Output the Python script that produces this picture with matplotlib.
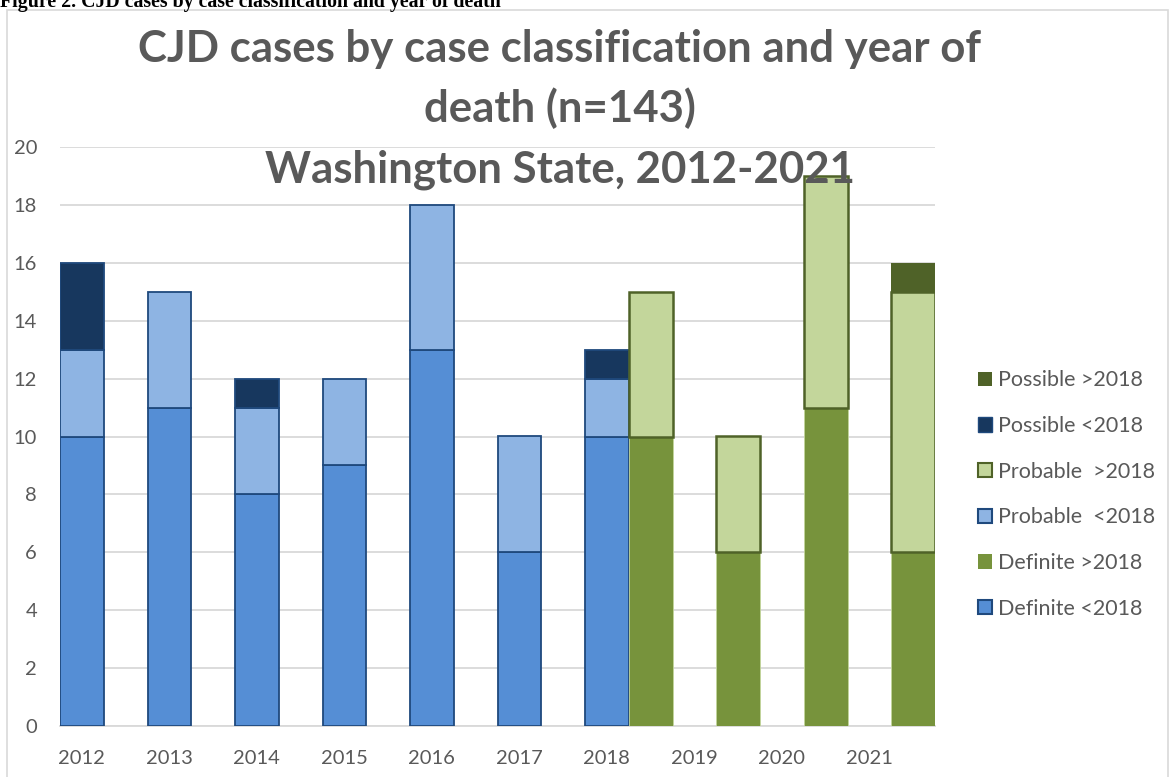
import matplotlib
matplotlib.use("Agg")
import matplotlib.pyplot as plt
from matplotlib.patches import Patch, Rectangle
import numpy as np

# category labels
years = ['2012', '2013', '2014', '2015', '2016', '2017', '2018', '2019', '2020', '2021']

# bars before 2018 (blue group), one per year 2012-2018
definite_lt = [10, 11, 8, 9, 13, 6, 10]
probable_lt = [3, 4, 3, 3, 5, 4, 2]
possible_lt = [3, 0, 1, 0, 0, 0, 1]

# bars after 2018 (green group), sitting between categories
definite_gt = [10, 6, 11, 6]
probable_gt = [5, 4, 8, 9]
possible_gt = [0, 0, 0, 1]

GREY = '#595959'
plt.rcParams['font.family'] = ['Lato', 'DejaVu Sans']

W, H = 1170, 777
fig = plt.figure(figsize=(W / 100, H / 100), dpi=100)

# chart frame and cropped caption above it
fig.patches.append(Rectangle((7 / W, -0.01), 1161 / W, 1 - 10 / H + 0.01,
                             transform=fig.transFigure, fill=False,
                             edgecolor='#D9D9D9', lw=1.2))
fig.text(0, 1 - 7 / H, 'Figure 2. CJD cases by case classification and year of death',
         family='Liberation Serif', weight='bold', fontsize=14.3, color='black',
         ha='left', va='baseline')

ax = fig.add_axes([60 / W, 51 / H, 875 / W, 579 / H])

x_lt = np.arange(len(definite_lt))
x_gt = np.arange(len(definite_gt)) + 6.5
w = 0.5
blue_edge = '#1F497D'
green_edge = '#4F6228'

b1 = np.array(definite_lt)
b2 = b1 + np.array(probable_lt)
ax.bar(x_lt, definite_lt, w, color='#558ED5', edgecolor=blue_edge, lw=1.3, zorder=3)
ax.bar(x_lt, probable_lt, w, bottom=b1, color='#8EB4E3', edgecolor=blue_edge, lw=1.3, zorder=3)
ax.bar(x_lt, possible_lt, w, bottom=b2, color='#17375E', edgecolor=blue_edge,
       lw=[1.3 if v else 0 for v in possible_lt], zorder=3)

g1 = np.array(definite_gt)
g2 = g1 + np.array(probable_gt)
ax.bar(x_gt, definite_gt, w, color='#77933C', edgecolor='#C3D69B', lw=0.6, zorder=3)
ax.bar(x_gt, probable_gt, w, bottom=g1, color='#C3D69B', edgecolor=green_edge, lw=1.8, zorder=3)
ax.bar(x_gt, possible_gt, w, bottom=g2, color='#4F6228', lw=0, zorder=3)

ax.set_xlim(-0.25, 9.75)
ax.set_ylim(0, 20)
ax.set_yticks(range(0, 21, 2))
ax.set_xticks(range(len(years)))
ax.set_xticklabels(years)
ax.tick_params(length=0, labelsize=14.5, labelcolor=GREY)
ax.tick_params(axis='y', pad=16.5)
ax.tick_params(axis='x', pad=17.5)
ax.yaxis.grid(True, color='#D9D9D9', lw=1.3, zorder=0)
ax.set_axisbelow(True)
for s in ['left', 'right', 'top']:
    ax.spines[s].set_visible(False)
ax.spines['bottom'].set_color('#D9D9D9')
ax.spines['bottom'].set_linewidth(1.3)

# title, three lines (baselines)
cx = 560 / W
for txt, yy in [('CJD cases by case classification and year of', 62),
                ('death (n=143)', 122),
                ('Washington State, 2012-2021', 182)]:
    fig.text(cx, 1 - yy / H, txt, ha='center', va='baseline', fontsize=31.5,
             weight='bold', color=GREY, zorder=10)

handles = [
    Patch(facecolor='#4F6228', edgecolor='none', label='Possible >2018'),
    Patch(facecolor='#17375E', edgecolor=blue_edge, label='Possible <2018'),
    Patch(facecolor='#C3D69B', edgecolor=green_edge, lw=1.5, label='Probable  >2018'),
    Patch(facecolor='#8EB4E3', edgecolor=blue_edge, lw=1.5, label='Probable  <2018'),
    Patch(facecolor='#77933C', edgecolor='none', label='Definite >2018'),
    Patch(facecolor='#558ED5', edgecolor=blue_edge, lw=1.5, label='Definite <2018'),
]
leg = fig.legend(handles=handles, loc='center left', bbox_to_anchor=(978 / W, 1 - 494.5 / H),
                 frameon=False, fontsize=15.5, handlelength=0.65, handleheight=0.65,
                 handletextpad=0.28, labelspacing=1.19, borderaxespad=0, borderpad=0)
for t in leg.get_texts():
    t.set_color(GREY)

fig.savefig('out.png', dpi=100)
